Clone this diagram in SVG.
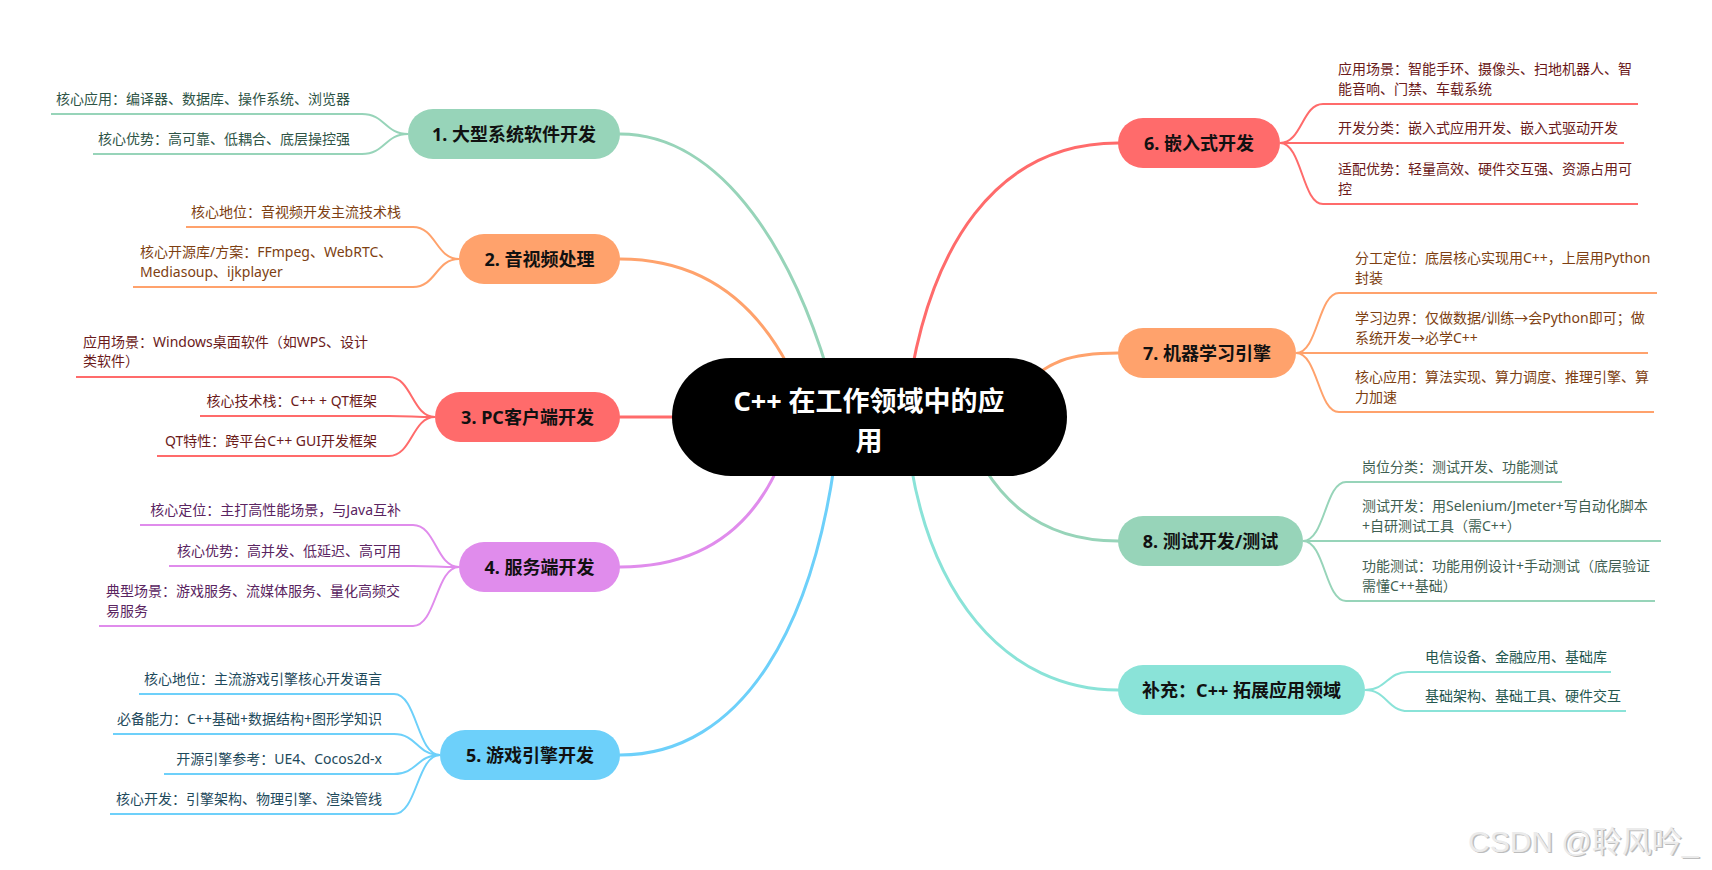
<svg xmlns="http://www.w3.org/2000/svg" width="1712" height="870" viewBox="0 0 1712 870">
<style>
text{font-family:"Noto Sans","Noto Sans CJK SC",sans-serif;dominant-baseline:central}
.conn{fill:none;stroke-width:3;stroke-linecap:round}
.leaf{fill:none;stroke-width:2}
.lt{font-size:14px}
.end{text-anchor:end}
.nt{font-size:18px;font-weight:700;fill:#111;text-anchor:middle}
.sg{stroke:#97D4B9}.fg{fill:#97D4B9}.tg{fill:#2E5446}
.so{stroke:#FFA26C}.fo{fill:#FFA26C}.to{fill:#7E3F12}
.sr{stroke:#FF6B6B}.fr{fill:#FF6B6B}.tr{fill:#6B1A1A}
.sp{stroke:#E08CEC}.fp{fill:#E08CEC}.tp{fill:#5A2461}
.sb{stroke:#6DD0FA}.fb{fill:#6DD0FA}.tb{fill:#1E4A5C}
.st{stroke:#8AE3D8}.ft{fill:#8AE3D8}.tt{fill:#25574F}
.tg2{fill:#3F5F52}
</style>
<rect width="1712" height="870" fill="#fff"/>

<g id="connectors">
  <path class="conn sg" d="M620 134 C720 134 800 250 840 417"/>
  <path class="conn so" d="M620 259 C700 259 770 300 810 417"/>
  <path class="conn sr" d="M620 417 L700 417"/>
  <path class="conn sp" d="M620 567 C710 567 770 520 795 417"/>
  <path class="conn sb" d="M620 755 C740 755 820 630 840 417"/>
  <path class="conn sr" d="M1118 143 C1000 143 925 240 905 417"/>
  <path class="conn so" d="M1118 353 C1075 353 1045 358 1010 400"/>
  <path class="conn sg" d="M1118 541 C1040 541 990 500 960 417"/>
  <path class="conn st" d="M1118 690 C1010 690 920 600 905 417"/>

  <path class="leaf sg" d="M408 134 C385 134 385 114 362 114 L51 114"/>
  <path class="leaf sg" d="M408 134 C385 134 385 154 362 154 L93 154"/>

  <path class="leaf so" d="M459 259 C436 259 436 227 413 227 L186 227"/>
  <path class="leaf so" d="M459 259 C436 259 436 287 413 287 L133 287"/>

  <path class="leaf sr" d="M435 417 C412 417 412 377 389 377 L76 377"/>
  <path class="leaf sr" d="M435 417 C412 417 412 416 389 416 L200 416"/>
  <path class="leaf sr" d="M435 417 C412 417 412 456 389 456 L157 456"/>

  <path class="leaf sp" d="M459 567 C436 567 436 525 413 525 L140 525"/>
  <path class="leaf sp" d="M459 567 C436 567 436 566 413 566 L169 566"/>
  <path class="leaf sp" d="M459 567 C436 567 436 626 413 626 L99 626"/>

  <path class="leaf sb" d="M440 755 C417 755 417 694 394 694 L139 694"/>
  <path class="leaf sb" d="M440 755 C417 755 417 734 394 734 L113 734"/>
  <path class="leaf sb" d="M440 755 C417 755 417 774 394 774 L164 774"/>
  <path class="leaf sb" d="M440 755 C417 755 417 814 394 814 L110 814"/>

  <path class="leaf sr" d="M1280 143 C1302 143 1302 104 1323 104 L1638 104"/>
  <path class="leaf sr" d="M1280 143 C1302 143 1302 143 1323 143 L1624 143"/>
  <path class="leaf sr" d="M1280 143 C1302 143 1302 204 1323 204 L1638 204"/>

  <path class="leaf so" d="M1296 353 C1318 353 1318 293 1339 293 L1657 293"/>
  <path class="leaf so" d="M1296 353 C1318 353 1318 353 1339 353 L1648 353"/>
  <path class="leaf so" d="M1296 353 C1318 353 1318 412 1339 412 L1654 412"/>

  <path class="leaf sg" d="M1303 541 C1325 541 1325 482 1346 482 L1562 482"/>
  <path class="leaf sg" d="M1303 541 C1325 541 1325 541 1346 541 L1661 541"/>
  <path class="leaf sg" d="M1303 541 C1325 541 1325 601 1346 601 L1655 601"/>

  <path class="leaf st" d="M1365 690 C1387 690 1387 672 1408 672 L1611 672"/>
  <path class="leaf st" d="M1365 690 C1387 690 1387 711 1408 711 L1626 711"/>
</g>

<g id="root">
  <rect x="672" y="358" width="395" height="118" rx="59" fill="#000"/>
  <text x="869" y="400" font-size="27" font-weight="700" fill="#fff" text-anchor="middle">C++ 在工作领域中的应</text>
  <text x="869" y="440" font-size="27" font-weight="700" fill="#fff" text-anchor="middle">用</text>
</g>

<g id="node1">
  <rect class="fg" x="408" y="109" width="212" height="50" rx="25"/>
  <text class="nt" x="514" y="134">1. 大型系统软件开发</text>
  <text class="lt tg end" x="350" y="98">核心应用：编译器、数据库、操作系统、浏览器</text>
  <text class="lt tg end" x="350" y="138">核心优势：高可靠、低耦合、底层操控强</text>
</g>

<g id="node2">
  <rect class="fo" x="459" y="234" width="161" height="50" rx="25"/>
  <text class="nt" x="539.5" y="259">2. 音视频处理</text>
  <text class="lt to end" x="401" y="211">核心地位：音视频开发主流技术栈</text>
  <text class="lt to" x="140" y="251">核心开源库/方案：FFmpeg、WebRTC、</text>
  <text class="lt to" x="140" y="271">Mediasoup、ijkplayer</text>
</g>

<g id="node3">
  <rect class="fr" x="435" y="392" width="185" height="50" rx="25"/>
  <text class="nt" x="527.5" y="417">3. PC客户端开发</text>
  <text class="lt tr" x="83" y="341">应用场景：Windows桌面软件（如WPS、设计</text>
  <text class="lt tr" x="83" y="360">类软件）</text>
  <text class="lt tr end" x="377" y="400">核心技术栈：C++ + QT框架</text>
  <text class="lt tr end" x="377" y="440">QT特性：跨平台C++ GUI开发框架</text>
</g>

<g id="node4">
  <rect class="fp" x="459" y="542" width="161" height="50" rx="25"/>
  <text class="nt" x="539.5" y="567">4. 服务端开发</text>
  <text class="lt tp end" x="401" y="509">核心定位：主打高性能场景，与Java互补</text>
  <text class="lt tp end" x="401" y="550">核心优势：高并发、低延迟、高可用</text>
  <text class="lt tp" x="106" y="590">典型场景：游戏服务、流媒体服务、量化高频交</text>
  <text class="lt tp" x="106" y="610">易服务</text>
</g>

<g id="node5">
  <rect class="fb" x="440" y="730" width="180" height="50" rx="25"/>
  <text class="nt" x="530" y="755">5. 游戏引擎开发</text>
  <text class="lt tb end" x="382" y="678">核心地位：主流游戏引擎核心开发语言</text>
  <text class="lt tb end" x="382" y="718">必备能力：C++基础+数据结构+图形学知识</text>
  <text class="lt tb end" x="382" y="758">开源引擎参考：UE4、Cocos2d-x</text>
  <text class="lt tb end" x="382" y="798">核心开发：引擎架构、物理引擎、渲染管线</text>
</g>

<g id="node6">
  <rect class="fr" x="1118" y="118" width="162" height="50" rx="25"/>
  <text class="nt" x="1199" y="143">6. 嵌入式开发</text>
  <text class="lt tr" x="1338" y="68">应用场景：智能手环、摄像头、扫地机器人、智</text>
  <text class="lt tr" x="1338" y="88">能音响、门禁、车载系统</text>
  <text class="lt tr" x="1338" y="127">开发分类：嵌入式应用开发、嵌入式驱动开发</text>
  <text class="lt tr" x="1338" y="168">适配优势：轻量高效、硬件交互强、资源占用可</text>
  <text class="lt tr" x="1338" y="188">控</text>
</g>

<g id="node7">
  <rect class="fo" x="1118" y="328" width="178" height="50" rx="25"/>
  <text class="nt" x="1207" y="353">7. 机器学习引擎</text>
  <text class="lt to" x="1355" y="257">分工定位：底层核心实现用C++，上层用Python</text>
  <text class="lt to" x="1355" y="277">封装</text>
  <text class="lt to" x="1355" y="317">学习边界：仅做数据/训练→会Python即可；做</text>
  <text class="lt to" x="1355" y="337">系统开发→必学C++</text>
  <text class="lt to" x="1355" y="376">核心应用：算法实现、算力调度、推理引擎、算</text>
  <text class="lt to" x="1355" y="396">力加速</text>
</g>

<g id="node8">
  <rect class="fg" x="1118" y="516" width="185" height="50" rx="25"/>
  <text class="nt" x="1210.5" y="541">8. 测试开发/测试</text>
  <text class="lt tg2" x="1362" y="466">岗位分类：测试开发、功能测试</text>
  <text class="lt tg2" x="1362" y="505">测试开发：用Selenium/Jmeter+写自动化脚本</text>
  <text class="lt tg2" x="1362" y="525">+自研测试工具（需C++）</text>
  <text class="lt tg2" x="1362" y="565">功能测试：功能用例设计+手动测试（底层验证</text>
  <text class="lt tg2" x="1362" y="585">需懂C++基础）</text>
</g>

<g id="node9">
  <rect class="ft" x="1118" y="665" width="247" height="50" rx="25"/>
  <text class="nt" x="1241.5" y="690">补充：C++ 拓展应用领域</text>
  <text class="lt tt" x="1425" y="656">电信设备、金融应用、基础库</text>
  <text class="lt tt" x="1425" y="695">基础架构、基础工具、硬件交互</text>
</g>

<g id="watermark">
  <text x="1469.5" y="842.5" font-size="30" fill="#bdbdbd" style="font-family:'Liberation Sans','Noto Sans CJK SC',sans-serif">CSDN @聆风吟_</text>
  <text x="1468" y="841" font-size="30" fill="#ebebeb" style="font-family:'Liberation Sans','Noto Sans CJK SC',sans-serif">CSDN @聆风吟_</text>
</g>
</svg>
